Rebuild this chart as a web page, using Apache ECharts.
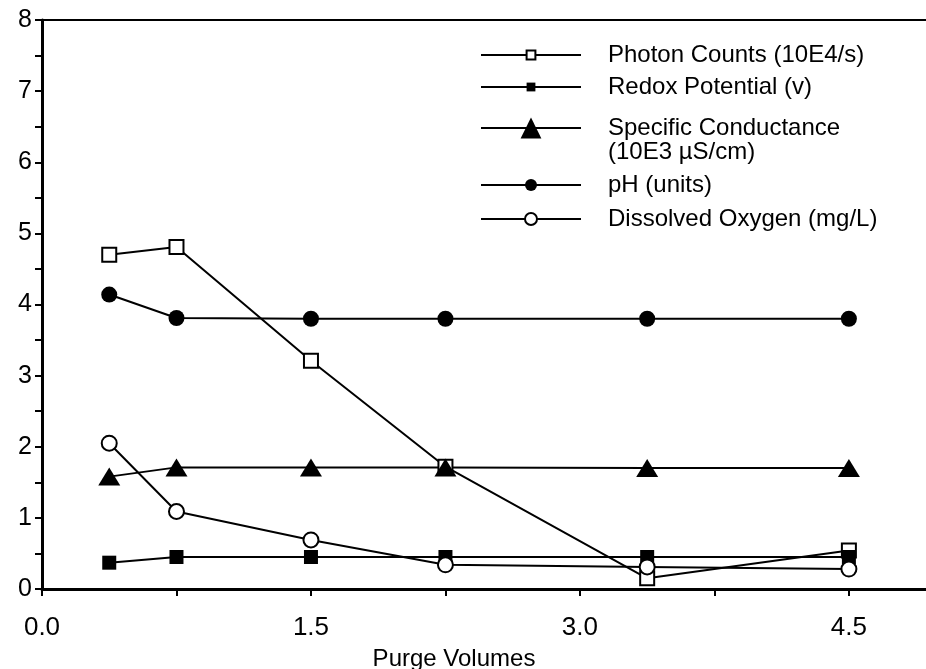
<!DOCTYPE html>
<html>
<head>
<meta charset="utf-8">
<script src="https://cdn.jsdelivr.net/npm/echarts@6/dist/echarts.min.js"></script>
<style>
  html, body { margin: 0; padding: 0; background: #fff; }
  #chart { width: 926px; height: 669px; }
</style>
</head>
<body>
<div id="chart"></div>
<script>
const purgeVolumes = [0.375, 0.75, 1.5, 2.25, 3.375, 4.5];
const photonCounts = [4.70, 4.81, 3.21, 1.72, 0.15, 0.54];
const redoxPotential = [0.37, 0.45, 0.45, 0.45, 0.45, 0.45];
const specificConductance = [1.58, 1.71, 1.71, 1.71, 1.70, 1.70];
const phUnits = [4.14, 3.81, 3.80, 3.80, 3.80, 3.80];
const dissolvedOxygen = [2.05, 1.09, 0.69, 0.34, 0.31, 0.28];
const seriesNames = [
  'Photon Counts (10E4/s)',
  'Redox Potential (v)',
  'Specific Conductance\n(10E3 µS/cm)',
  'pH (units)',
  'Dissolved Oxygen (mg/L)'
];
const xTickLabels = ['0.0', '1.5', '3.0', '4.5'];
const yTickLabels = ['0', '1', '2', '3', '4', '5', '6', '7', '8'];

const FONT = "'Liberation Sans', Arial, sans-serif";
const X_MAX = 4.93; // the original plot is cut off at the right edge
const chart = echarts.init(document.getElementById('chart'));

function pairs(ys) {
  return purgeVolumes.map((x, i) => [x, ys[i]]);
}

function lineSeries(name, ys, symbol, size, filled) {
  return {
    name: name,
    type: 'line',
    data: pairs(ys),
    symbol: symbol,
    symbolSize: size,
    showAllSymbol: true,
    lineStyle: { color: '#000', width: 2 },
    itemStyle: filled
      ? { color: '#000', borderColor: '#000', borderWidth: 0 }
      : { color: '#000', borderColor: '#000', borderWidth: 2 },
    emphasis: { disabled: true },
    z: 3
  };
}

// one legend block per row so the rows can sit where the original has them
const legendRows = [
  { top: 43, h: 11 },
  { top: 75, h: 11 },
  { top: 92, h: 26, lead: true },
  { top: 173, h: 15 },
  { top: 207, h: 15 }
];
const legends = seriesNames.map((name, i) => ({
  data: [name],
  left: 480,
  top: legendRows[i].top,
  padding: 0,
  itemWidth: 100,
  itemHeight: legendRows[i].h,
  selectedMode: false,
  // blank first line keeps the marker level with the first text line
  formatter: legendRows[i].lead ? (n => '\n' + n) : (n => n),
  textStyle: {
    fontFamily: FONT,
    fontSize: 24,
    lineHeight: 24,
    color: '#000',
    padding: [0, 0, 0, 22]
  }
}));

function isMultiple(v, step) {
  return Math.abs(v / step - Math.round(v / step)) < 1e-6;
}

const option = {
  backgroundColor: '#fff',
  animation: false,
  legend: legends,
  grid: { left: 42, right: 0, top: 20, bottom: 80, outerBoundsMode: 'none', containLabel: false },
  xAxis: [{
    type: 'value',
    min: 0,
    max: X_MAX,
    interval: 0.75,
    name: 'Purge Volumes',
    nameLocation: 'middle',
    nameGap: 58,
    nameTextStyle: { fontFamily: FONT, fontSize: 24, color: '#000', padding: [0, 60, 0, 0] },
    axisLine: { lineStyle: { color: '#000', width: 3 } },
    axisTick: { show: true, length: 7, lineStyle: { color: '#000', width: 2 } },
    splitLine: { show: false },
    axisLabel: {
      showMaxLabel: false,
      margin: 26,
      fontFamily: FONT,
      fontSize: 26,
      color: '#000',
      formatter: function (v) {
        if (!isMultiple(v, 1.5)) return '';
        return xTickLabels[Math.round(v / 1.5)] || '';
      }
    }
  }, {
    type: 'value',
    position: 'top',
    min: 0,
    max: X_MAX,
    axisLine: { show: true, lineStyle: { color: '#000', width: 2 } },
    axisTick: { show: false },
    axisLabel: { show: false },
    splitLine: { show: false }
  }],
  yAxis: {
    type: 'value',
    min: 0,
    max: 8,
    interval: 0.5,
    axisLine: { show: true, lineStyle: { color: '#000', width: 3 } },
    axisTick: { show: true, length: 7, lineStyle: { color: '#000', width: 2 } },
    splitLine: { show: false },
    axisLabel: {
      margin: 10,
      fontFamily: FONT,
      fontSize: 25,
      color: '#000',
      formatter: function (v) {
        if (!isMultiple(v, 1)) return '';
        return yTickLabels[Math.round(v)] || '';
      }
    }
  },
  series: [
    lineSeries(seriesNames[0], photonCounts, 'emptyRect', 14, false),
    lineSeries(seriesNames[1], redoxPotential, 'rect', 14, true),
    lineSeries(seriesNames[2], specificConductance, 'triangle', [22, 18], true),
    lineSeries(seriesNames[3], phUnits, 'circle', 16, true),
    lineSeries(seriesNames[4], dissolvedOxygen, 'emptyCircle', 15, false)
  ]
};

chart.setOption(option);
</script>
</body>
</html>
